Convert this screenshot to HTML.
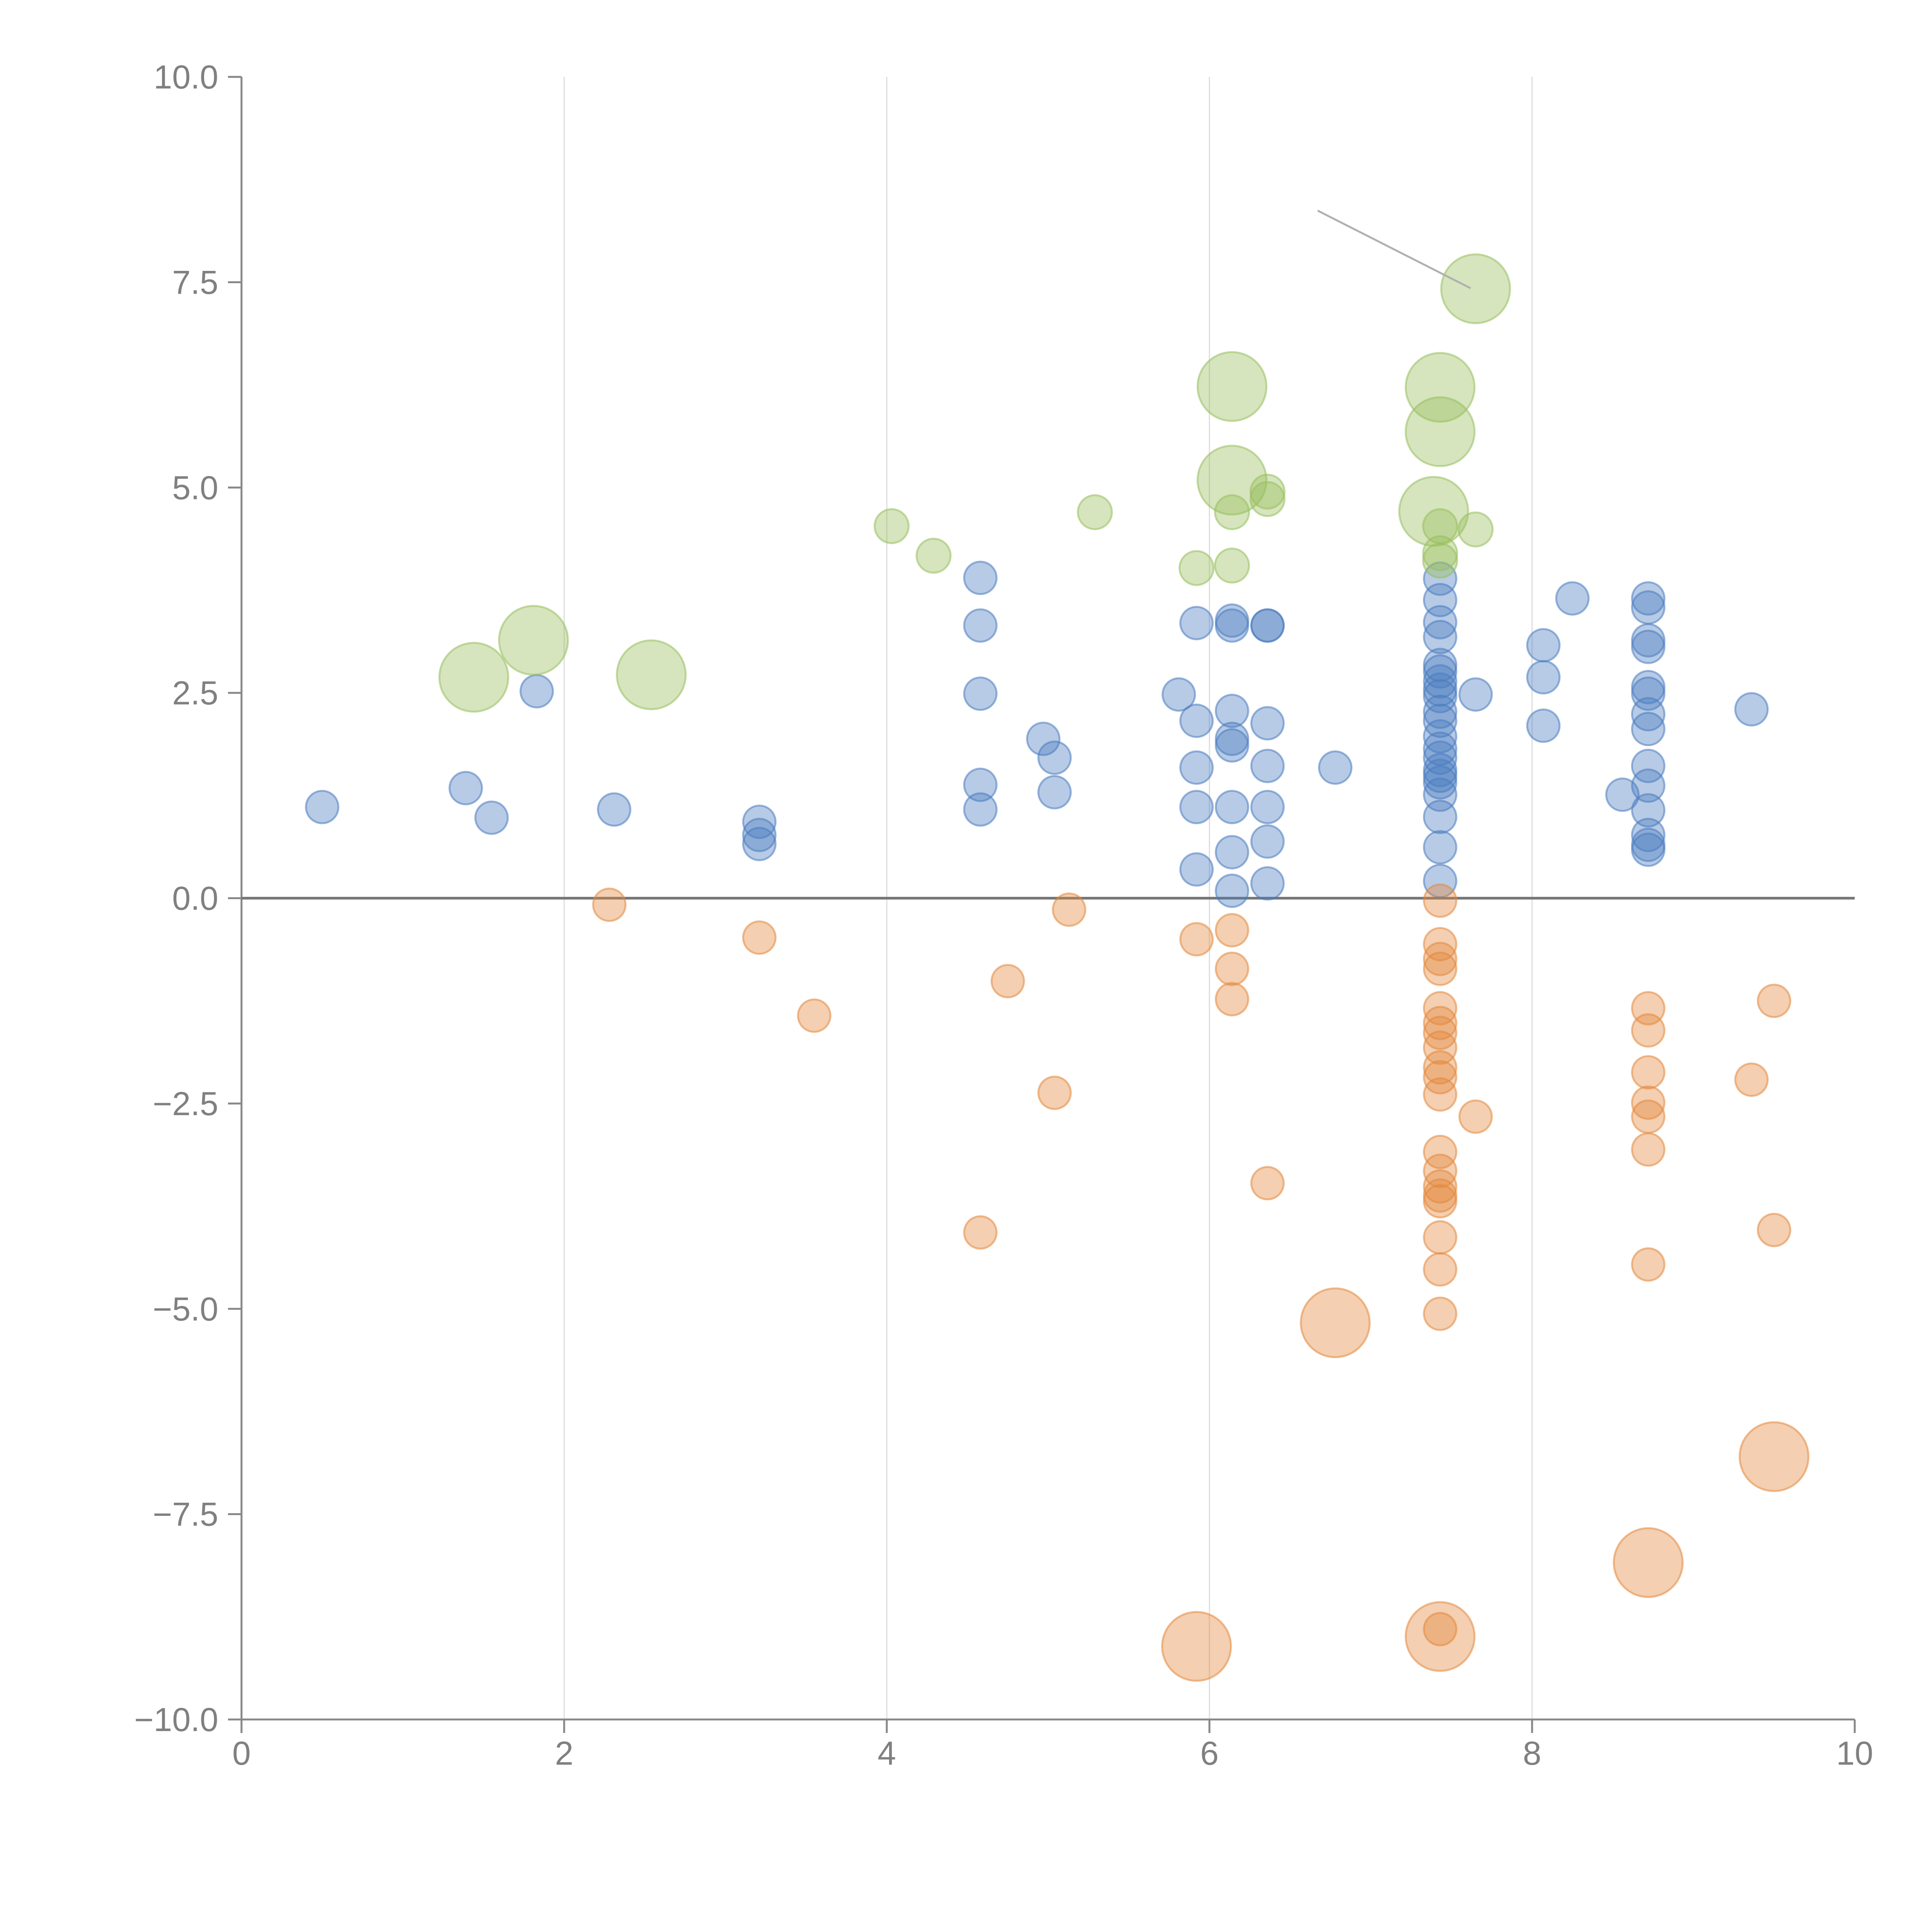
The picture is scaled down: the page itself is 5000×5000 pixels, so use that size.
<!DOCTYPE html>
<html><head><meta charset="utf-8"><style>
html,body{margin:0;padding:0;background:#fff}
svg{display:block}
text{font-family:"Liberation Sans",Arial,sans-serif;fill:#808080;font-size:86px}
</style></head><body>
<svg id="chart" width="5000" height="5000" viewBox="0 0 5000 5000" xmlns="http://www.w3.org/2000/svg"></svg>
<script>
const xTicks=[0,2,4,6,8,10];
const xTickLabels=["0","2","4","6","8","10"];
const yTicks=[-10,-7.5,-5,-2.5,0,2.5,5,7.5,10];
const yTickLabels=["\u221210.0","\u22127.5","\u22125.0","\u22122.5","0.0","2.5","5.0","7.5","10.0"];
const blueX=[0.50,1.39,1.55,1.83,2.31,3.21,3.21,3.21,4.58,4.58,4.58,4.58,4.58,4.97,5.04,5.04,5.81,5.92,5.92,5.92,5.92,5.92,6.14,6.14,6.14,6.14,6.14,6.14,6.14,6.14,6.36,6.36,6.36,6.36,6.36,6.36,6.36,6.78,
7.43,7.43,7.43,7.43,7.43,7.43,7.43,7.43,7.43,7.43,7.43,7.43,7.43,7.43,7.43,7.43,7.43,7.43,7.43,7.43,7.43,
7.65,8.07,8.07,8.07,8.25,8.56,
8.72,8.72,8.72,8.72,8.72,8.72,8.72,8.72,8.72,8.72,8.72,8.72,8.72,8.72,9.36];
const blueY=[1.11,1.34,0.98,2.52,1.08,0.93,0.77,0.66,3.90,3.32,2.49,1.38,1.08,1.94,1.71,1.29,2.48,3.35,2.16,1.59,1.11,0.35,3.38,3.32,2.28,1.94,1.86,1.11,0.56,0.09,3.32,3.32,2.13,1.61,1.11,0.69,0.18,1.59,
3.89,3.63,3.36,3.18,2.84,2.76,2.64,2.54,2.46,2.27,2.16,1.97,1.82,1.71,1.56,1.49,1.41,1.26,0.99,0.62,0.21,
2.48,3.08,2.69,2.10,3.65,1.26,
3.65,3.54,3.14,3.06,2.57,2.49,2.24,2.06,1.61,1.37,1.07,0.77,0.65,0.59,2.30];
const orangeX=[2.28,3.21,3.55,4.58,4.75,5.04,5.13,5.92,6.14,6.14,6.14,6.36,
7.43,7.43,7.43,7.43,7.43,7.43,7.43,7.43,7.43,7.43,7.43,7.43,7.43,7.43,7.43,7.43,7.43,7.43,7.43,7.43,
7.65,8.72,8.72,8.72,8.72,8.72,8.72,8.72,9.36,9.50,9.50,
6.78,5.92,7.43,8.72,9.50];
const orangeY=[-0.08,-0.48,-1.43,-4.07,-1.01,-2.37,-0.14,-0.50,-0.39,-0.86,-1.23,-3.47,
-0.03,-0.56,-0.74,-0.86,-1.34,-1.52,-1.64,-1.82,-2.06,-2.18,-2.39,-3.09,-3.32,-3.51,-3.62,-3.69,-4.13,-4.52,-5.06,-8.90,
-2.66,-1.34,-1.61,-2.12,-2.49,-2.66,-3.06,-4.46,-2.21,-1.25,-4.04,
-5.17,-9.11,-8.99,-8.09,-6.80];
const orangeSize=[1,1,1,1,1,1,1,1,1,1,1,1, 1,1,1,1,1,1,1,1,1,1,1,1,1,1,1,1,1,1,1,1, 1,1,1,1,1,1,1,1,1,1,1, 4.5,4.5,4.5,4.5,4.5];
const greenX=[4.03,4.29,5.29,5.92,6.14,6.14,6.36,6.36,7.43,7.43,7.43,7.65, 1.44,1.81,2.54,6.14,6.14,7.43,7.43,7.39,7.65];
const greenY=[4.53,4.17,4.70,4.02,4.70,4.05,4.95,4.86,4.53,4.20,4.11,4.49, 2.69,3.14,2.72,6.23,5.09,6.22,5.68,4.71,7.42];
const greenSize=[1.1,1.1,1.1,1.1,1.1,1.1,1.1,1.1,1.1,1.1,1.1,1.1, 4.5,4.5,4.5,4.5,4.5,4.5,4.5,4.5,4.5];

const NS="http://www.w3.org/2000/svg";
const svg=document.getElementById('chart');
const X0=625,X1=4800,Y0=4450,Y1=199;
function sx(v){return X0+(v-0)/(10-0)*(X1-X0);}
function sy(v){return Y0-(v+10)/20*(Y0-Y1);}
function rad(s){return 42*Math.sqrt(s);}
function mk(tag,attrs){const e=document.createElementNS(NS,tag);for(const k in attrs)e.setAttribute(k,attrs[k]);svg.appendChild(e);return e;}

// gridlines
xTicks.forEach((t,i)=>{
  if(t===0||t===10)return;
  const g=mk('line',{x1:sx(t),x2:sx(t),y1:Y1,y2:Y0,stroke:'#dcdcdc','stroke-width':3});
  
  
});
// axes
const ya=mk('line',{x1:X0,x2:X0,y1:Y1,y2:Y0,stroke:'#888','stroke-width':5});


const xa=mk('line',{x1:X0,x2:X1,y1:Y0,y2:Y0,stroke:'#888','stroke-width':5});


yTicks.forEach((t,i)=>{
  const tk=mk('line',{x1:X0-35,x2:X0,y1:sy(t),y2:sy(t),stroke:'#888','stroke-width':5});
  
  
  const tx=mk('text',{x:X0-60,y:sy(t)+30,'text-anchor':'end'});
  tx.textContent=yTickLabels[i];
  
  
});
xTicks.forEach((t,i)=>{
  const tk=mk('line',{x1:sx(t),x2:sx(t),y1:Y0,y2:Y0+35,stroke:'#888','stroke-width':5});
  
  
  const tx=mk('text',{x:sx(t),y:Y0+117,'text-anchor':'middle'});
  tx.textContent=xTickLabels[i];
  
  
});
// zero line
const z=mk('line',{x1:X0,x2:X1,y1:sy(0),y2:sy(0),stroke:'#777','stroke-width':7});



function series(xs,ys,ss,color,name){
  xs.forEach((x,i)=>{
    const c=mk('circle',{cx:sx(x),cy:sy(ys[i]),r:rad(ss?ss[i]:1),fill:color,'fill-opacity':0.4,stroke:color,'stroke-opacity':0.55,'stroke-width':5});
    
    
  });
}
series(blueX,blueY,null,'#4a7cc0','blue-point');
series(orangeX,orangeY,orangeSize,'#e3883c','orange-point');
series(greenX,greenY,greenSize,'#98bf5c','green-point');

// annotation leader line
const an=mk('line',{x1:3410,y1:545,x2:3806,y2:746,stroke:'#b0b0b0','stroke-width':5});


</script>
</body></html>
